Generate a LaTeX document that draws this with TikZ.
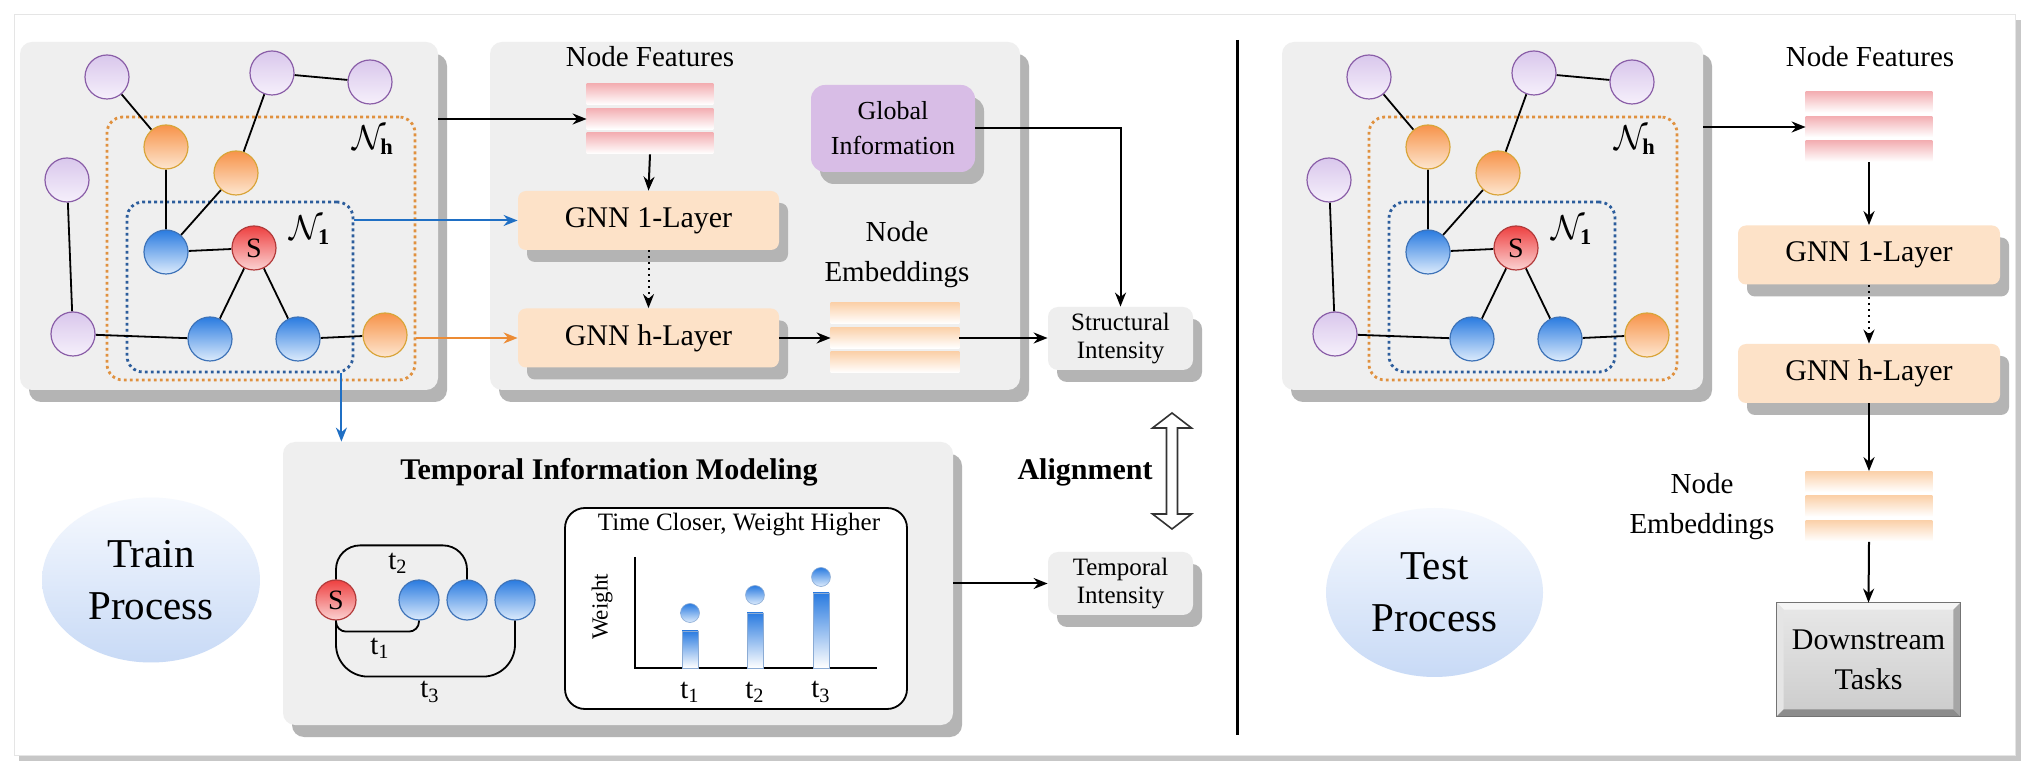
\documentclass[tikz,border=0pt]{standalone}
\usepackage{fontspec}
\setmainfont{Liberation Serif}
\newfontfamily\rmf{Liberation Serif}
\usetikzlibrary{shapes.geometric,shadows,calc,arrows.meta}
\pgfdeclarelayer{back}
\pgfdeclarelayer{mid}
\pgfsetlayers{back,mid,main}
\definecolor{panel}{HTML}{EFEFEF}
\definecolor{shadowc}{HTML}{B4B4B4}
\definecolor{gnnfill}{HTML}{FDE2C8}
\definecolor{gipurple}{HTML}{D8BDE6}
\definecolor{intfill}{HTML}{EEEEEE}
\definecolor{pinkstripe}{HTML}{F3AEB2}
\definecolor{peachstripe}{HTML}{FBD0A8}
\definecolor{dotorange}{HTML}{E0913F}
\definecolor{dotblue}{HTML}{2C5D9C}
\definecolor{arrblue}{HTML}{1F6FC4}
\definecolor{arrorange}{HTML}{EC8B34}
\definecolor{nblue}{HTML}{2A7BE0}
\definecolor{nbluel}{HTML}{DCEBFC}
\definecolor{nblueb}{HTML}{3E73B8}
\definecolor{norange}{HTML}{F7934A}
\definecolor{norangel}{HTML}{FDE6CF}
\definecolor{norangeb}{HTML}{D9A53A}
\definecolor{npurp}{HTML}{D9C7EC}
\definecolor{npurpl}{HTML}{F6F0FB}
\definecolor{npurpb}{HTML}{8A5EA8}
\definecolor{nred}{HTML}{EE4040}
\definecolor{nredl}{HTML}{FBD2D2}
\definecolor{nredb}{HTML}{B23A3A}
\definecolor{bubtop}{HTML}{F6F9FE}
\definecolor{bubbot}{HTML}{C8DAF6}

\newcommand{\gnngraph}[1]{%
  \begin{pgfonlayer}{back}
    \node[dotbox, draw=dotorange, minimum width=154pt, minimum height=131.5pt] (#1nh) at (261,248.5) {};
    \node[dotbox, draw=dotblue, minimum width=113pt, minimum height=85pt] (#1n1) at (240,287) {};
  \end{pgfonlayer}
  \node[pnode] (#1p1) at (107,77) {};
  \node[pnode] (#1p2) at (272,73) {};
  \node[pnode] (#1p3) at (370,82) {};
  \node[pnode] (#1p4) at (67,180) {};
  \node[pnode] (#1p5) at (73,334) {};
  \node[onode] (#1o1) at (166,147) {};
  \node[onode] (#1o2) at (236,173) {};
  \node[onode] (#1o3) at (385,335) {};
  \node[bnode] (#1b1) at (166,252) {};
  \node[bnode] (#1b2) at (210,339) {};
  \node[bnode] (#1b3) at (298,339) {};
  \node[snode] (#1s) at (254,248) {S};
  \node[font=\fontsize{16}{18}\selectfont] (#1nhl) at (373,140) {$\mathcal{N}_{\mathbf{h}}$};
  \node[font=\fontsize{16}{18}\selectfont] (#1n1l) at (310,230) {$\mathcal{N}_{\mathbf{1}}$};
  \begin{pgfonlayer}{mid}
    \draw[edge] (#1p1)--(#1o1) (#1p2)--(#1o2) (#1p2)--(#1p3) (#1p4)--(#1p5)
      (#1o1)--(#1b1) (#1o2)--(#1b1) (#1b1)--(#1s) (#1s)--(#1b2) (#1s)--(#1b3)
      (#1p5)--(#1b2) (#1b3)--(#1o3);
  \end{pgfonlayer}
}
\newcommand{\stripes}[2]{%
  \foreach \k in {0,1,2} {
    \shade[top color=#2, bottom color=white]
      ($(#1.north west)+(0,\k*24.5)$) rectangle ($(#1.north east)+(0,\k*24.5+21)$);
  }
}

\begin{document}
\begin{tikzpicture}[x=0.5pt,y=-0.5pt,
  f12/.style={font=\rmf\fontsize{12.5}{14}\selectfont},
  f13/.style={font=\rmf\fontsize{13}{17.5}\selectfont},
  f14/.style={font=\rmf\fontsize{14.5}{17}\selectfont},
  f145/.style={font=\rmf\fontsize{14.5}{20}\selectfont},
  f15/.style={font=\rmf\fontsize{15}{18}\selectfont},
  f20/.style={font=\rmf\fontsize{20.5}{26}\selectfont},
  sh/.style={drop shadow={shadow xshift=4.5pt, shadow yshift=-6pt, fill=shadowc, opacity=1}},
  panelbox/.style={rectangle, rounded corners=6pt, fill=panel, inner sep=0pt, sh},
  dotbox/.style={rectangle, rounded corners=8pt, line width=1.4pt, dash pattern=on 1.4pt off 1.6pt, inner sep=0pt},
  gnode/.style={circle, minimum size=22pt, inner sep=0pt, line width=0.6pt, font=\rmf\fontsize{14}{16}\selectfont},
  pnode/.style={gnode, draw=npurpb, top color=npurp, bottom color=npurpl},
  onode/.style={gnode, draw=norangeb, top color=norange, bottom color=norangel},
  bnode/.style={gnode, draw=nblueb, top color=nblue, bottom color=nbluel},
  snode/.style={gnode, draw=nredb, top color=nred, bottom color=nredl},
  edge/.style={line width=0.9pt, black},
  arr/.style={line width=1pt, -{Stealth[length=7pt,width=5.5pt]}},
  stacknode/.style={rectangle, inner sep=0pt, minimum width=63pt, minimum height=35pt},
  gnnbox/.style={rectangle, rounded corners=4pt, fill=gnnfill, minimum width=130.5pt, minimum height=29.5pt, inner sep=0pt, f15, sh},
  gibox/.style={rectangle, rounded corners=7pt, fill=gipurple, minimum width=82pt, minimum height=43.5pt, inner sep=0pt, align=center, f13, sh},
  intbox/.style={rectangle, rounded corners=5pt, fill=intfill, minimum width=72.5pt, minimum height=31.5pt, inner sep=0pt, align=center, f12, sh},
  bubble/.style={ellipse, top color=bubtop, bottom color=bubbot, inner sep=0pt, align=center, f20}
]
\useasboundingbox (0,0) rectangle (2035,774);

\begin{pgfonlayer}{back}
  \fill[black!22] (19,20) rectangle (2021,761);
  \fill[white] (14,14) rectangle (2015,755);
  \draw[black!10, line width=0.4pt] (14,14) rectangle (2015,755);
  \node[panelbox, minimum width=209pt, minimum height=174pt] (lg) at (229,216) {};
  \node[panelbox, minimum width=265pt, minimum height=174pt] (mid) at (755,216) {};
  \node[panelbox, minimum width=335pt, minimum height=141.5pt] (tmp) at (618,583.5) {};
  \node[panelbox, minimum width=210.5pt, minimum height=174pt] (tg) at (1492.5,216) {};
\end{pgfonlayer}

% ---------- left graph ----------
\gnngraph{L}
% ---------- test graph ----------
\begin{scope}[xshift=631pt]
\gnngraph{R}
\end{scope}

% ---------- middle panel ----------
\node[f14] (nflab) at (650,57) {Node Features};
\node[stacknode] (nf) at (650,119) {};
\stripes{nf}{pinkstripe}
\node[gnnbox] (g1) at (648.5,220.5) {GNN 1-Layer};
\node[gnnbox] (gh) at (648.5,338) {GNN h-Layer};
\node[gibox] (gi) at (893,128.5) {Global\\Information};
\node[f145, align=center] (nelab) at (897,255) {Node\\Embeddings};
\node[stacknode, minimum width=64pt] (ne) at (895,338) {};
\stripes{ne}{peachstripe}
\node[intbox] (si) at (1120.5,338.5) {Structural\\Intensity};
\node[intbox] (ti) at (1120.5,583.5) {Temporal\\Intensity};

\draw[arr] (lg.east |- nf.west) -- (nf.west);
\draw[arr] (nf.south) -- (g1.north);
\draw[arr, dotted] (g1.south) -- (gh.north);
\draw[arr] (gh.east) -- (ne.west);
\draw[arr] (ne.east) -- (ne.east -| si.west);
\draw[arr] (gi.east) -| (si.north);
\draw[arr, arrblue] (Ln1.east |- g1.west) -- (g1.west);
\draw[arr, arrorange] (Lnh.east |- gh.west) -- (gh.west);
\coordinate (bdown) at ([xshift=-6.5pt]Ln1.south east);
\draw[arr, arrblue] (bdown) -- (bdown |- tmp.north);

% ---------- temporal panel ----------
\node[f15] (ttl) at (609,472) {\textbf{Temporal Information Modeling}};
\node[draw, line width=0.9pt, rounded corners=10pt, fill=white, minimum width=171pt, minimum height=100.5pt, inner sep=0pt] (wbox) at (736,608.5) {};
\node[f12] (wt) at (739,525) {Time Closer, Weight Higher};
\draw[line width=1pt] (635,557) -- (635,668) -- (877,668);
\node[rotate=90, font=\rmf\fontsize{11.5}{13}\selectfont] (wl) at (602,607) {Weight};
\foreach \cx/\top/\cy/\lab in {690/631/613/1, 755/613/595/2, 821/593/577/3} {
  \shade[top color=nblue, bottom color=white, draw=nblueb!60, line width=0.3pt] (\cx-8,\top) rectangle (\cx+8,668);
  \shade[top color=nblue, bottom color=nbluel, draw=nblueb!60, line width=0.3pt] (\cx,\cy) circle (9.5);
  \node[f14] at (\cx,692) {t\textsubscript{\lab}};
}
\node[snode, minimum size=20pt] (qs) at (336,600) {S};
\node[bnode, minimum size=20pt] (q1) at (419,600) {};
\node[bnode, minimum size=20pt] (q2) at (467,600) {};
\node[bnode, minimum size=20pt] (q3) at (515,600) {};
\draw[edge, rounded corners=12pt] (qs.north) -- ++(0,-34) -| (q2.north);
\draw[edge, rounded corners=5pt] (qs.south) -- ++(0,11) -| (q1.south);
\draw[edge, rounded corners=16pt] (qs.south) -- ++(0,56) -| (q3.south);
\node[f14] (lt2) at (398,563) {t\textsubscript{2}};
\node[f14] (lt1) at (380,648) {t\textsubscript{1}};
\node[f14] (lt3) at (430,692) {t\textsubscript{3}};
\draw[arr] (tmp.east) -- (ti.west);

% ---------- alignment ----------
\node[f15] (al) at (1085,472) {\textbf{Alignment}};
\draw[line width=0.8pt, draw=black!80, fill=white] (1172,413) -- (1191.5,428) -- (1177.5,428) -- (1177.5,514) -- (1191.5,514) -- (1172,529) -- (1152.5,514) -- (1166.5,514) -- (1166.5,428) -- (1152.5,428) -- cycle;

% ---------- divider ----------
\draw[line width=1.5pt] (1237,40) -- (1237,735);

% ---------- bubbles ----------
\node[bubble, minimum width=109pt, minimum height=82.5pt] (train) at (151,580) {Train\\Process};
\node[bubble, minimum width=108.5pt, minimum height=84.5pt] (test) at (1434.5,592.5) {Test\\Process};

% ---------- test pipeline ----------
\node[f14] (tnflab) at (1870,57) {Node Features};
\node[stacknode] (tnf) at (1869,127) {};
\stripes{tnf}{pinkstripe}
\node[gnnbox, minimum width=131pt] (tg1) at (1869,255) {GNN 1-Layer};
\node[gnnbox, minimum width=131pt] (tgh) at (1869,373.5) {GNN h-Layer};
\node[stacknode] (tne) at (1869,506.5) {};
\stripes{tne}{peachstripe}
\node[f145, align=center] (tnelab) at (1702,507) {Node\\Embeddings};
\node[rectangle, minimum width=91.5pt, minimum height=56.5pt, inner sep=0pt, top color=black!9, bottom color=black!20, align=center, font=\rmf\fontsize{15}{20}\selectfont] (ds) at (1868.5,659.5) {Downstream\\Tasks};
\fill[black!4] (ds.north west) -- (ds.north east) -- ($(ds.north east)+(-7,7)$) -- ($(ds.north west)+(7,7)$) -- cycle;
\fill[black!10] (ds.north west) -- ($(ds.north west)+(7,7)$) -- ($(ds.south west)+(7,-7)$) -- (ds.south west) -- cycle;
\fill[black!45] (ds.south west) -- ($(ds.south west)+(7,-7)$) -- ($(ds.south east)+(-7,-7)$) -- (ds.south east) -- cycle;
\fill[black!35] (ds.north east) -- (ds.south east) -- ($(ds.south east)+(-7,-7)$) -- ($(ds.north east)+(-7,7)$) -- cycle;
\draw[black!55, line width=0.8pt] (ds.north west) rectangle (ds.south east);

\draw[arr] (tg.east |- tnf.west) -- (tnf.west);
\draw[arr] (tnf.south) -- (tg1.north);
\draw[arr, dotted] (tg1.south) -- (tgh.north);
\draw[arr] (tgh.south) -- (tne.north);
\draw[arr] (tne.south) -- (ds.north);
\end{tikzpicture}
\end{document}
